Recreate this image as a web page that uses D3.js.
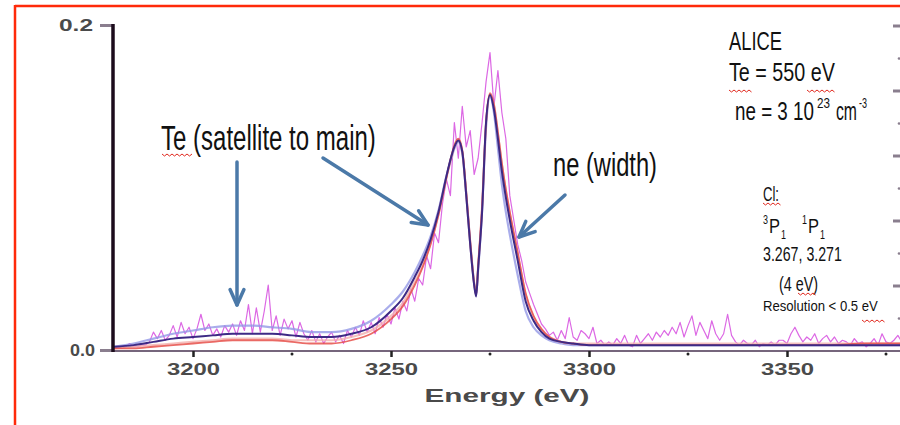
<!DOCTYPE html>
<html><head><meta charset="utf-8">
<script src="https://cdn.jsdelivr.net/npm/d3@7"></script>
<style>body{margin:0;background:#fff}svg{display:block}</style>
</head><body>
<svg id="c" width="900" height="425"></svg>
<script>
// ---------- DATA ----------
const expEnergy = d3.range(3180, 3381, 1); // 1 eV sampling grid
const expIntensity = [
 0.001,0.002,0.001,0.002,0.004,0.002,0.002,0.003,0.003,0.005, // 3180
 0.011,0.007,0.012,0.006,0.009,0.015,0.008,0.017,0.010,0.014, // 3190
 0.007,0.013,0.022,0.012,0.016,0.009,0.013,0.008,0.015,0.011, // 3200
 0.016,0.009,0.018,0.012,0.028,0.010,0.026,0.011,0.024,0.040, // 3210
 0.012,0.021,0.009,0.019,0.013,0.018,0.008,0.017,0.010,0.006, // 3220
 0.012,0.005,0.010,0.004,0.008,0.011,0.005,0.009,0.004,0.012, // 3230
 0.008,0.014,0.009,0.018,0.011,0.017,0.010,0.020,0.014,0.022, // 3240
 0.016,0.026,0.019,0.030,0.024,0.038,0.030,0.044,0.040,0.058, // 3250
 0.050,0.072,0.066,0.090,0.105,0.095,0.140,0.118,0.150,0.125, // 3260
 0.135,0.108,0.118,0.140,0.165,0.183,0.150,0.172,0.146,0.130, // 3270
 0.095,0.080,0.065,0.055,0.042,0.035,0.028,0.022,0.016,0.013, // 3280
 0.009,0.011,0.006,0.012,0.007,0.020,0.008,0.006,0.012,0.010, // 3290
 0.007,0.014,0.004,0.006,0.003,0.005,0.003,0.007,0.004,0.009, // 3300
 0.003,0.002,0.009,0.004,0.007,0.010,0.006,0.011,0.008,0.012, // 3310
 0.009,0.014,0.010,0.017,0.008,0.015,0.021,0.009,0.017,0.012, // 3320
 0.007,0.018,0.010,0.006,0.010,0.022,0.009,0.005,0.003,0.006, // 3330
 0.004,0.003,0.006,0.002,0.004,0.003,0.005,0.003,0.006,0.006, // 3340
 0.004,0.010,0.014,0.009,0.005,0.008,0.006,0.010,0.004,0.007, // 3350
 0.009,0.005,0.008,0.004,0.006,0.005,0.003,0.007,0.004,0.005, // 3360
 0.002,0.004,0.007,0.003,0.010,0.005,0.004,0.006,0.009,0.005, // 3370
 0.004                                                         // 3380
];
const modelEnergy = [
 3180,3185,3190,3195,3200,3205,3210,3215,3220,3225,
 3230,3235,3240,3245,3250,3253,3256,3258,3260,3262,
 3264,3265,3266,3267,3268,3269,3270,3271,3271.5,3272,
 3273,3274,3275,3276,3277,3278,3279,3280,3282,3284,
 3286,3288,3290,3293,3296,3300,3310,3320,3330,3340,
 3350,3360,3370,3380];
const modelPurple = [
 0.002,0.003,0.005,0.007,0.008,0.009,0.010,0.010,0.010,0.009,
 0.008,0.008,0.010,0.014,0.024,0.032,0.045,0.055,0.068,0.085,
 0.107,0.117,0.125,0.129,0.122,0.095,0.065,0.040,0.033,0.050,
 0.085,0.140,0.157,0.148,0.130,0.110,0.094,0.080,0.055,0.030,
 0.018,0.011,0.007,0.005,0.004,0.003,0.003,0.003,0.003,0.003,
 0.003,0.003,0.003,0.003];
const modelRed = [
 0.001,0.001,0.002,0.003,0.004,0.005,0.006,0.006,0.006,0.005,
 0.004,0.004,0.006,0.010,0.019,0.027,0.040,0.051,0.065,0.083,
 0.106,0.117,0.126,0.130,0.123,0.097,0.067,0.041,0.034,0.052,
 0.088,0.140,0.158,0.151,0.134,0.115,0.099,0.085,0.060,0.035,
 0.021,0.013,0.008,0.005,0.004,0.003,0.003,0.003,0.003,0.003,
 0.003,0.003,0.004,0.004];
const modelBlue = [
 0.002,0.004,0.007,0.010,0.012,0.014,0.015,0.015,0.014,0.013,
 0.011,0.011,0.013,0.018,0.028,0.036,0.048,0.058,0.070,0.086,
 0.107,0.116,0.124,0.128,0.121,0.096,0.066,0.041,0.034,0.049,
 0.086,0.137,0.156,0.146,0.124,0.102,0.085,0.071,0.046,0.024,
 0.014,0.009,0.006,0.004,0.003,0.003,0.003,0.003,0.003,0.003,
 0.003,0.003,0.003,0.003];
const modelPink = [
 0.001,0.002,0.003,0.004,0.005,0.006,0.007,0.007,0.007,0.006,
 0.006,0.006,0.008,0.012,0.021,0.029,0.042,0.052,0.066,0.084,
 0.106,0.116,0.125,0.129,0.122,0.096,0.066,0.041,0.034,0.051,
 0.088,0.139,0.157,0.151,0.133,0.114,0.098,0.084,0.059,0.034,
 0.020,0.012,0.008,0.005,0.004,0.004,0.004,0.004,0.004,0.004,
 0.004,0.004,0.004,0.004];
const xTickMajor = [3200, 3250, 3300, 3350];
const xTickMinor = [3225, 3275, 3325, 3375];
const yTickLeft = [0.0, 0.2];
const yRightMajor = [0.04, 0.08, 0.12, 0.16, 0.2];
const yRightMinor = [0.02, 0.06, 0.10, 0.14, 0.18];
const xAxisTitle = "Energy (eV)";

// ---------- CHART ----------
const svg = d3.select("#c");
const x = d3.scaleLinear().domain([3200, 3350]).range([193, 787]);
const y = d3.scaleLinear().domain([0, 0.2]).range([350, 25]);

// red frame
svg.append("line").attr("x1",15).attr("x2",900).attr("y1",6).attr("y2",6)
  .attr("stroke","#ff2a0a").attr("stroke-width",2.5);
svg.append("line").attr("x1",15).attr("x2",15).attr("y1",5).attr("y2",425)
  .attr("stroke","#ff2a0a").attr("stroke-width",2.5);

svg.append("defs").append("clipPath").attr("id","pc")
  .append("rect").attr("x",113).attr("y",0).attr("width",787).attr("height",352);

const plot = svg.append("g").attr("clip-path","url(#pc)");
const lineExp = d3.line().x((d,i)=>x(expEnergy[i])).y(d=>y(d));
const lineMod = d3.line().x((d,i)=>x(modelEnergy[i])).y(d=>y(d)).curve(d3.curveMonotoneX);

plot.append("path").datum(expIntensity).attr("d",lineExp)
  .attr("fill","none").attr("stroke","#dc68e4").attr("stroke-width",1.2).attr("stroke-linejoin","round");
plot.append("path").datum(modelBlue).attr("d",lineMod)
  .attr("fill","none").attr("stroke","#9498e6").attr("stroke-width",2.2).attr("opacity",0.8);
plot.append("path").datum(modelPink).attr("d",lineMod)
  .attr("fill","none").attr("stroke","#f2b0ae").attr("stroke-width",2.2).attr("opacity",0.8);
plot.append("path").datum(modelRed).attr("d",lineMod)
  .attr("fill","none").attr("stroke","#e6504a").attr("stroke-width",1.8).attr("opacity",0.85);
plot.append("path").datum(modelPurple).attr("d",lineMod)
  .attr("fill","none").attr("stroke","#3d2a85").attr("stroke-width",2);

// x axis
svg.append("line").attr("x1",100).attr("x2",900).attr("y1",351).attr("y2",351)
  .attr("stroke","#76667c").attr("stroke-width",2);
const xa = svg.append("g").attr("transform","translate(0,351)")
  .call(d3.axisBottom(x).tickValues(xTickMajor).tickSize(6).tickFormat(d3.format("d")));
xa.select(".domain").remove();
xa.selectAll(".tick line").attr("stroke","#222").attr("stroke-width",2.5);
xa.selectAll(".tick text").attr("y",24).attr("dy",0)
  .attr("font-family","'Liberation Sans',Arial,sans-serif").attr("font-size",16).attr("font-weight","bold")
  .attr("fill","#4a4a4a").attr("textLength",53).attr("lengthAdjust","spacingAndGlyphs");
svg.append("g").selectAll("circle").data(xTickMinor).join("circle")
  .attr("cx",d=>x(d)).attr("cy",354).attr("r",1.5).attr("fill","#222");

svg.append("text").attr("x",507).attr("y",402).attr("text-anchor","middle")
  .attr("font-family","'Liberation Sans',Arial,sans-serif").attr("font-size",19).attr("font-weight","bold")
  .attr("fill","#4a4a4a").attr("textLength",165).attr("lengthAdjust","spacingAndGlyphs").text(xAxisTitle);

// left y axis
const ya = svg.append("g").attr("transform","translate(113,0)")
  .call(d3.axisLeft(y).tickValues(yTickLeft).tickSize(13).tickFormat(d3.format(".1f")));
ya.select(".domain").remove();
ya.selectAll(".tick line").attr("stroke","#8a7e8e").attr("stroke-width",3);
ya.selectAll(".tick text").attr("x",d=>d===0?-18:-20).attr("dy","0.35em")
  .attr("font-family","'Liberation Sans',Arial,sans-serif").attr("font-size",16).attr("font-weight","bold")
  .attr("fill","#4a4a4a").attr("textLength",d=>d===0?25:34).attr("lengthAdjust","spacingAndGlyphs");
svg.append("line").attr("x1",113).attr("x2",113).attr("y1",y(0.2)-1).attr("y2",352)
  .attr("stroke","#1c0c1c").attr("stroke-width",3.5);

// right mirror ticks
svg.append("g").selectAll("line").data(yRightMajor).join("line")
  .attr("x1",893).attr("x2",900).attr("y1",d=>y(d)+1).attr("y2",d=>y(d)+1)
  .attr("stroke","#8a7e8e").attr("stroke-width",3);
svg.append("g").selectAll("circle").data(yRightMinor).join("circle")
  .attr("cx",899).attr("cy",d=>y(d)+1).attr("r",1.3).attr("fill","#8a7e8e");

// ---------- ANNOTATIONS ----------
const NF = "'Liberation Sans Narrow','Arial Narrow','Liberation Sans',Arial,sans-serif";
// horizontally scaled so that the glyphs cover exactly `len` pixels
function label(txt, xx, yy, size, len){
  const t = svg.append("text").attr("font-family",NF)
    .attr("font-size",size).attr("fill","#111").text(txt);
  const natural = t.node().getComputedTextLength();
  const sx = len && natural ? len/natural : 1;
  t.attr("transform",`translate(${xx},${yy}) scale(${sx},1)`);
  return t;
}
label("Te (satellite to main)",161,150,35,215);
label("ne (width)",553,176,34,104);
label("ALICE",729,50,25,53);
label("Te = 550 eV",729,81,26,106);
label("ne = 3 10",735,120,25,79);
label("23",817,108,14,13);
label("cm",836,120,25,21);
label("-3",859,108,14,8);
label("Cl:",763,201,20,16);
label("3",763,224,12,5);
label("P",769,233,20,11);
label("1",781,239,12,5);
label("1",802,224,12,5);
label("P",808,233,20,11);
label("1",820,239,12,5);
label("3.267, 3.271",763,261,21,79);
label("(4 eV)",779,291,21,39);
label("Resolution < 0.5 eV",763,311,15,115);

// spell-check squiggles
function squiggle(x0,x1,yy){
  let p = `M${x0},${yy}`; let i=0;
  for(let xx=x0; xx<x1; xx+=2.5, i++) p += `L${xx+2.5},${yy+(i%2?0:2)}`;
  svg.append("path").attr("d",p).attr("fill","none").attr("stroke","#e0281e").attr("stroke-width",1);
}
squiggle(162,190,154);
squiggle(729,750,90);
squiggle(807,833,90);
squiggle(763,779,203);
squiggle(798,815,293);
squiggle(862,883,320);

// arrows
function arrow(x1,y1,x2,y2){
  const g = svg.append("g").attr("stroke","#4b79a8").attr("stroke-width",3.5)
    .attr("fill","none").attr("stroke-linecap","round").attr("stroke-linejoin","round");
  g.append("line").attr("x1",x1).attr("y1",y1).attr("x2",x2).attr("y2",y2);
  const a = Math.atan2(y2-y1,x2-x1), L=17, h=0.42;
  const p1=[x2-L*Math.cos(a-h), y2-L*Math.sin(a-h)], p2=[x2-L*Math.cos(a+h), y2-L*Math.sin(a+h)];
  g.append("path").attr("d",`M${p1}L${x2},${y2}L${p2}`);
}
arrow(237,162,237,305);
arrow(323,158,428,225);
arrow(565,195,519,237);
</script>
</body></html>
